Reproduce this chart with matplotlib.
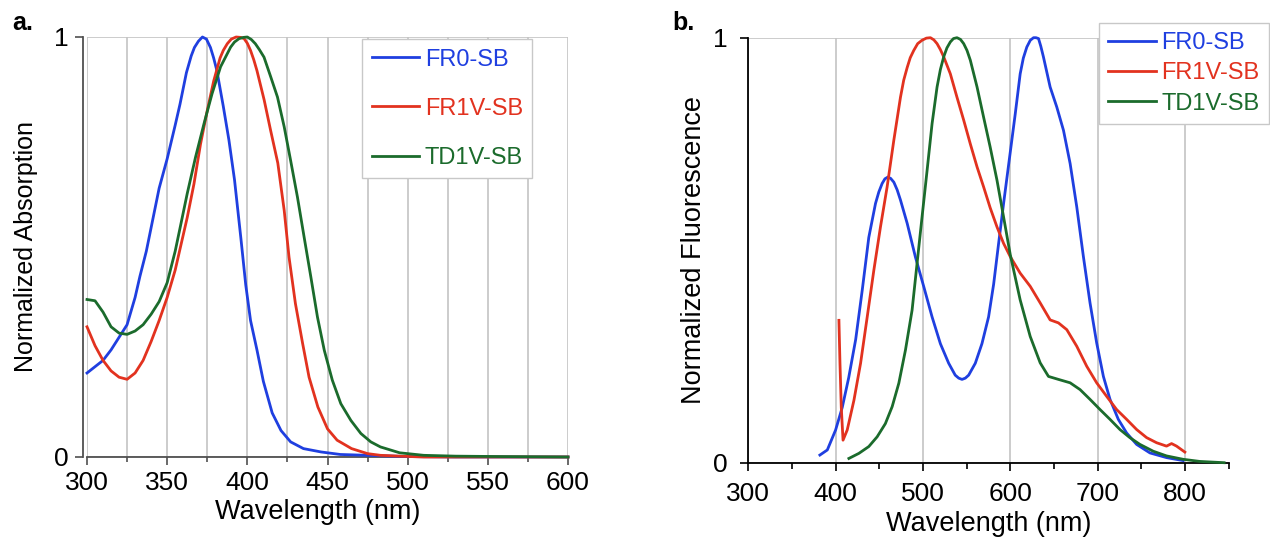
import matplotlib
matplotlib.use("Agg")
import matplotlib.pyplot as plt
from matplotlib.ticker import MultipleLocator, FixedLocator

plt.rcParams['font.family'] = ['Liberation Sans', 'DejaVu Sans']

# ---------------- data: absorption (panel a) ----------------
abs_fr0_wl = [300, 305, 310, 315, 320, 325, 330, 333, 337, 341, 345, 350, 355, 358, 362, 365, 367, 369.5, 372,
              374.5, 377, 379, 381, 385, 388.5, 392, 396, 399, 402, 406, 410, 415.5, 421, 427, 435, 446, 458,
              475, 500, 530, 600]
abs_fr0 = [0.20, 0.215, 0.23, 0.255, 0.285, 0.315, 0.38, 0.43, 0.49, 0.565, 0.64, 0.71, 0.79, 0.84, 0.915,
           0.955, 0.975, 0.99, 1.0, 0.995, 0.975, 0.95, 0.92, 0.835, 0.755, 0.66, 0.52, 0.41, 0.325, 0.255,
           0.18, 0.105, 0.063, 0.036, 0.02, 0.012, 0.006, 0.004, 0.001, 0.0, 0.0]

abs_fr1v_wl = [300, 305, 310, 315, 320, 325, 330, 335, 340, 345, 350, 355, 358, 362.5, 366.7, 370.8, 375, 379,
               383, 385, 387.5, 390, 393, 396, 398, 400, 402, 404, 406, 410.5, 414.5, 419, 423, 426, 430, 434.5,
               438.5, 444, 450, 456, 465, 475, 483, 495, 510, 600]
abs_fr1v = [0.31, 0.265, 0.23, 0.205, 0.19, 0.185, 0.20, 0.23, 0.275, 0.325, 0.38, 0.445, 0.495, 0.57, 0.65,
            0.745, 0.825, 0.895, 0.95, 0.968, 0.984, 0.995, 1.0, 0.999, 0.996, 0.985, 0.968, 0.946, 0.92, 0.85,
            0.778, 0.70, 0.587, 0.476, 0.365, 0.27, 0.19, 0.119, 0.067, 0.04, 0.02, 0.008, 0.004, 0.002, 0.0,
            0.0]

abs_td1v_wl = [300, 305, 310, 315, 320, 325, 330, 335, 340, 345, 350, 355, 358.3, 362.5, 367.7, 373, 378, 383.3,
               389.6, 392, 394.8, 397.5, 400, 402.5, 405, 407.5, 410.4, 414.6, 418.8, 423, 427, 431.25, 435.4,
               439.6, 443.75, 448, 453, 458.3, 464.6, 470.8, 477, 483, 495, 510, 530, 560, 600]
abs_td1v = [0.375, 0.372, 0.345, 0.31, 0.295, 0.292, 0.30, 0.315, 0.34, 0.37, 0.415, 0.49, 0.55, 0.627, 0.714,
            0.794, 0.865, 0.929, 0.976, 0.988, 0.996, 0.999, 1.0, 0.994, 0.984, 0.97, 0.952, 0.905, 0.857,
            0.786, 0.706, 0.619, 0.524, 0.429, 0.333, 0.254, 0.183, 0.127, 0.087, 0.056, 0.036, 0.024, 0.01,
            0.004, 0.002, 0.001, 0.0]

# ---------------- data: fluorescence (panel b) ----------------
fl_fr0_wl = [382, 390.5, 400, 407.6, 415, 423, 430.5, 438, 445.7, 449.5, 453.3, 456.5, 459.8, 463, 466.7, 470.5,
             474.3, 482, 491.4, 501, 510.5, 520, 529.5, 537, 541, 544.8, 548.6, 552.4, 560, 567.6, 575.2, 581,
             586.7, 592.4, 600, 605.7, 611.4, 615, 619, 623, 626.7, 629.5, 632.4, 635, 638, 645.7, 653.3, 661,
             668.6, 676.2, 683.8, 691.4, 699, 706.7, 714.3, 723.8, 733.3, 744.8, 760, 779, 798]
fl_fr0 = [0.018, 0.03, 0.077, 0.13, 0.20, 0.29, 0.406, 0.53, 0.61, 0.637, 0.657, 0.668, 0.672, 0.669, 0.66,
          0.642, 0.618, 0.563, 0.484, 0.414, 0.343, 0.28, 0.234, 0.206, 0.199, 0.196, 0.199, 0.206, 0.234, 0.28,
          0.343, 0.42, 0.516, 0.61, 0.73, 0.82, 0.915, 0.952, 0.978, 0.994, 1.0, 1.0, 0.998, 0.98, 0.955, 0.884,
          0.837, 0.782, 0.704, 0.602, 0.485, 0.376, 0.282, 0.203, 0.149, 0.102, 0.07, 0.043, 0.023, 0.012,
          0.005]

fl_fr1v_wl = [403.8, 405, 406.5, 408.5, 413.3, 421, 428.6, 436.2, 443.8, 451.4, 459, 466.7, 474.3, 478, 482,
              485.5, 489.5, 494, 499, 504, 508.6, 512.5, 516.2, 520, 523.8, 531.4, 539, 546.7, 554.3, 562, 569.5,
              577, 584.8, 592.4, 600, 611.4, 622.9, 634.3, 645.7, 655.2, 664.8, 676.2, 687.6, 699, 710.5, 721.9,
              733.3, 744.8, 756.2, 767.6, 779, 784.8, 790.5, 800]
fl_fr1v = [0.335, 0.234, 0.13, 0.053, 0.077, 0.147, 0.234, 0.343, 0.453, 0.555, 0.649, 0.759, 0.86, 0.9, 0.93,
           0.953, 0.97, 0.986, 0.994, 0.999, 1.0, 0.995, 0.986, 0.972, 0.955, 0.915, 0.86, 0.806, 0.75, 0.696,
           0.649, 0.60, 0.555, 0.516, 0.485, 0.446, 0.415, 0.376, 0.336, 0.329, 0.313, 0.274, 0.227, 0.188,
           0.156, 0.125, 0.102, 0.078, 0.059, 0.047, 0.039, 0.045, 0.039, 0.025]

fl_td1v_wl = [415.2, 426.7, 438, 447.6, 457, 464.8, 472.4, 480, 487.6, 493.3, 499, 504.8, 510.5, 516.2, 520,
              523.8, 527.5, 531.4, 535, 539, 543, 546.7, 550.5, 554.3, 562, 569.5, 577, 584.8, 592.4, 600, 611.4,
              622.9, 634.3, 643.8, 655.2, 668.6, 680, 691.4, 702.9, 714.3, 725.7, 737, 748.6, 763.8, 779, 798,
              817, 845]
fl_td1v = [0.01, 0.022, 0.038, 0.061, 0.092, 0.132, 0.187, 0.265, 0.359, 0.469, 0.578, 0.688, 0.798, 0.884,
           0.925, 0.955, 0.976, 0.99, 0.998, 1.0, 0.996, 0.986, 0.97, 0.947, 0.884, 0.813, 0.743, 0.665, 0.578,
           0.49, 0.383, 0.297, 0.235, 0.203, 0.196, 0.188, 0.172, 0.149, 0.125, 0.102, 0.078, 0.059, 0.043,
           0.027, 0.016, 0.008, 0.003, 0.0]

labels = ['FR0-SB', 'FR1V-SB', 'TD1V-SB']
colors = ['#1f3fe0', '#e2321f', '#1b6b2c']

W, H = 1270, 540
fig = plt.figure(figsize=(W / 100, H / 100), dpi=100)

grid_c = '#c4c4c4'
FS_TICK = 19
FS_LAB = 19.5
FS_LEG = 17

# ---------------- panel a ----------------
ax1 = fig.add_axes([87 / W, 1 - 457 / H, (568 - 87) / W, 420 / H])
for x, y, c, l in zip([abs_fr0_wl, abs_fr1v_wl, abs_td1v_wl], [abs_fr0, abs_fr1v, abs_td1v], colors, labels):
    ax1.plot(x, y, color=c, lw=2.0, label=l, clip_on=False, zorder=3, solid_joinstyle='round')
ax1.set_xlim(300, 600)
ax1.set_ylim(0, 1)
ax1.xaxis.set_major_locator(MultipleLocator(50))
ax1.xaxis.set_minor_locator(MultipleLocator(25))
ax1.set_yticks([0, 1])
ax1.set_yticklabels(['0', '1'])
ax1.grid(True, which='both', axis='x', color=grid_c, lw=1.2, zorder=0)
ax1.grid(True, which='major', axis='y', color=grid_c, lw=1.2, zorder=0)
ax1.set_axisbelow(True)
for s in ['top', 'right']:
    ax1.spines[s].set_visible(False)
ax1.spines['left'].set_position(('outward', 3))
for s in ['left', 'bottom']:
    ax1.spines[s].set_color('#505050')
    ax1.spines[s].set_linewidth(1.3)
ax1.tick_params(axis='both', which='major', direction='out', length=6, width=1.2, color='#505050',
                labelsize=FS_TICK, pad=4)
ax1.tick_params(axis='x', which='minor', direction='out', length=3.5, width=1.2, color='#505050')
ax1.set_xlabel('Wavelength (nm)', fontsize=FS_LAB)
ax1.set_ylabel('Normalized Absorption', fontsize=18)
ax1.xaxis.set_label_coords(0.479, -0.1)
ax1.yaxis.set_label_coords(-0.102, 0.5)
leg1 = ax1.legend(loc='upper left', bbox_to_anchor=(0.572, 0.995), borderaxespad=0, fontsize=FS_LEG,
                  handlelength=2.0, handletextpad=0.25, labelspacing=1.15, fancybox=False, framealpha=1,
                  edgecolor='#c8c8c8', labelcolor='linecolor', borderpad=0.4)
leg1.get_frame().set_linewidth(1.0)
for h in leg1.get_lines():
    h.set_linewidth(2.0)

# ---------------- panel b ----------------
ax2 = fig.add_axes([748.3 / W, 1 - 462.7 / H, (1228.5 - 748.3) / W, 425 / H])
for x, y, c, l in zip([fl_fr0_wl, fl_fr1v_wl, fl_td1v_wl], [fl_fr0, fl_fr1v, fl_td1v], colors, labels):
    ax2.plot(x, y, color=c, lw=2.0, label=l, clip_on=False, zorder=3, solid_joinstyle='round')
ax2.set_xlim(300, 850)
ax2.set_ylim(0, 1)
ax2.xaxis.set_major_locator(FixedLocator([300, 400, 500, 600, 700, 800]))
ax2.xaxis.set_minor_locator(FixedLocator([350, 450, 550, 650, 750, 850]))
ax2.set_yticks([0, 1])
ax2.set_yticklabels(['0', '1'])
ax2.grid(True, which='major', axis='both', color=grid_c, lw=1.2, zorder=0)
ax2.set_axisbelow(True)
for s in ['top', 'right']:
    ax2.spines[s].set_visible(False)
for s in ['left', 'bottom']:
    ax2.spines[s].set_color('black')
    ax2.spines[s].set_linewidth(1.3)
ax2.tick_params(axis='x', which='major', direction='out', length=6, width=1.2, color='black',
                labelsize=FS_TICK, pad=8)
ax2.tick_params(axis='y', which='major', direction='out', length=6, width=1.2, color='black',
                labelsize=FS_TICK, pad=9)
ax2.tick_params(axis='x', which='minor', direction='out', length=4, width=1.2, color='black')
ax2.set_xlabel('Wavelength (nm)', fontsize=FS_LAB)
ax2.set_ylabel('Normalized Fluorescence', fontsize=FS_LAB)
ax2.xaxis.set_label_coords(0.5, -0.113)
ax2.yaxis.set_label_coords(-0.086, 0.5)
leg2 = ax2.legend(loc='upper right', bbox_to_anchor=(1269 / W, 1 - 22.7 / H), bbox_transform=fig.transFigure,
                  borderaxespad=0, fontsize=FS_LEG, handlelength=2.0, handletextpad=0.25, labelspacing=0.35,
                  fancybox=False, framealpha=1, edgecolor='#c8c8c8', labelcolor='linecolor', borderpad=0.4)
leg2.get_frame().set_linewidth(1.0)
for h in leg2.get_lines():
    h.set_linewidth(2.0)

# panel letters
fig.text(12 / W, 1 - 30 / H, 'a.', fontsize=18, fontweight='bold', va='baseline', ha='left')
fig.text(672 / W, 1 - 30 / H, 'b.', fontsize=18, fontweight='bold', va='baseline', ha='left')

fig.savefig('out.png', dpi=100)
